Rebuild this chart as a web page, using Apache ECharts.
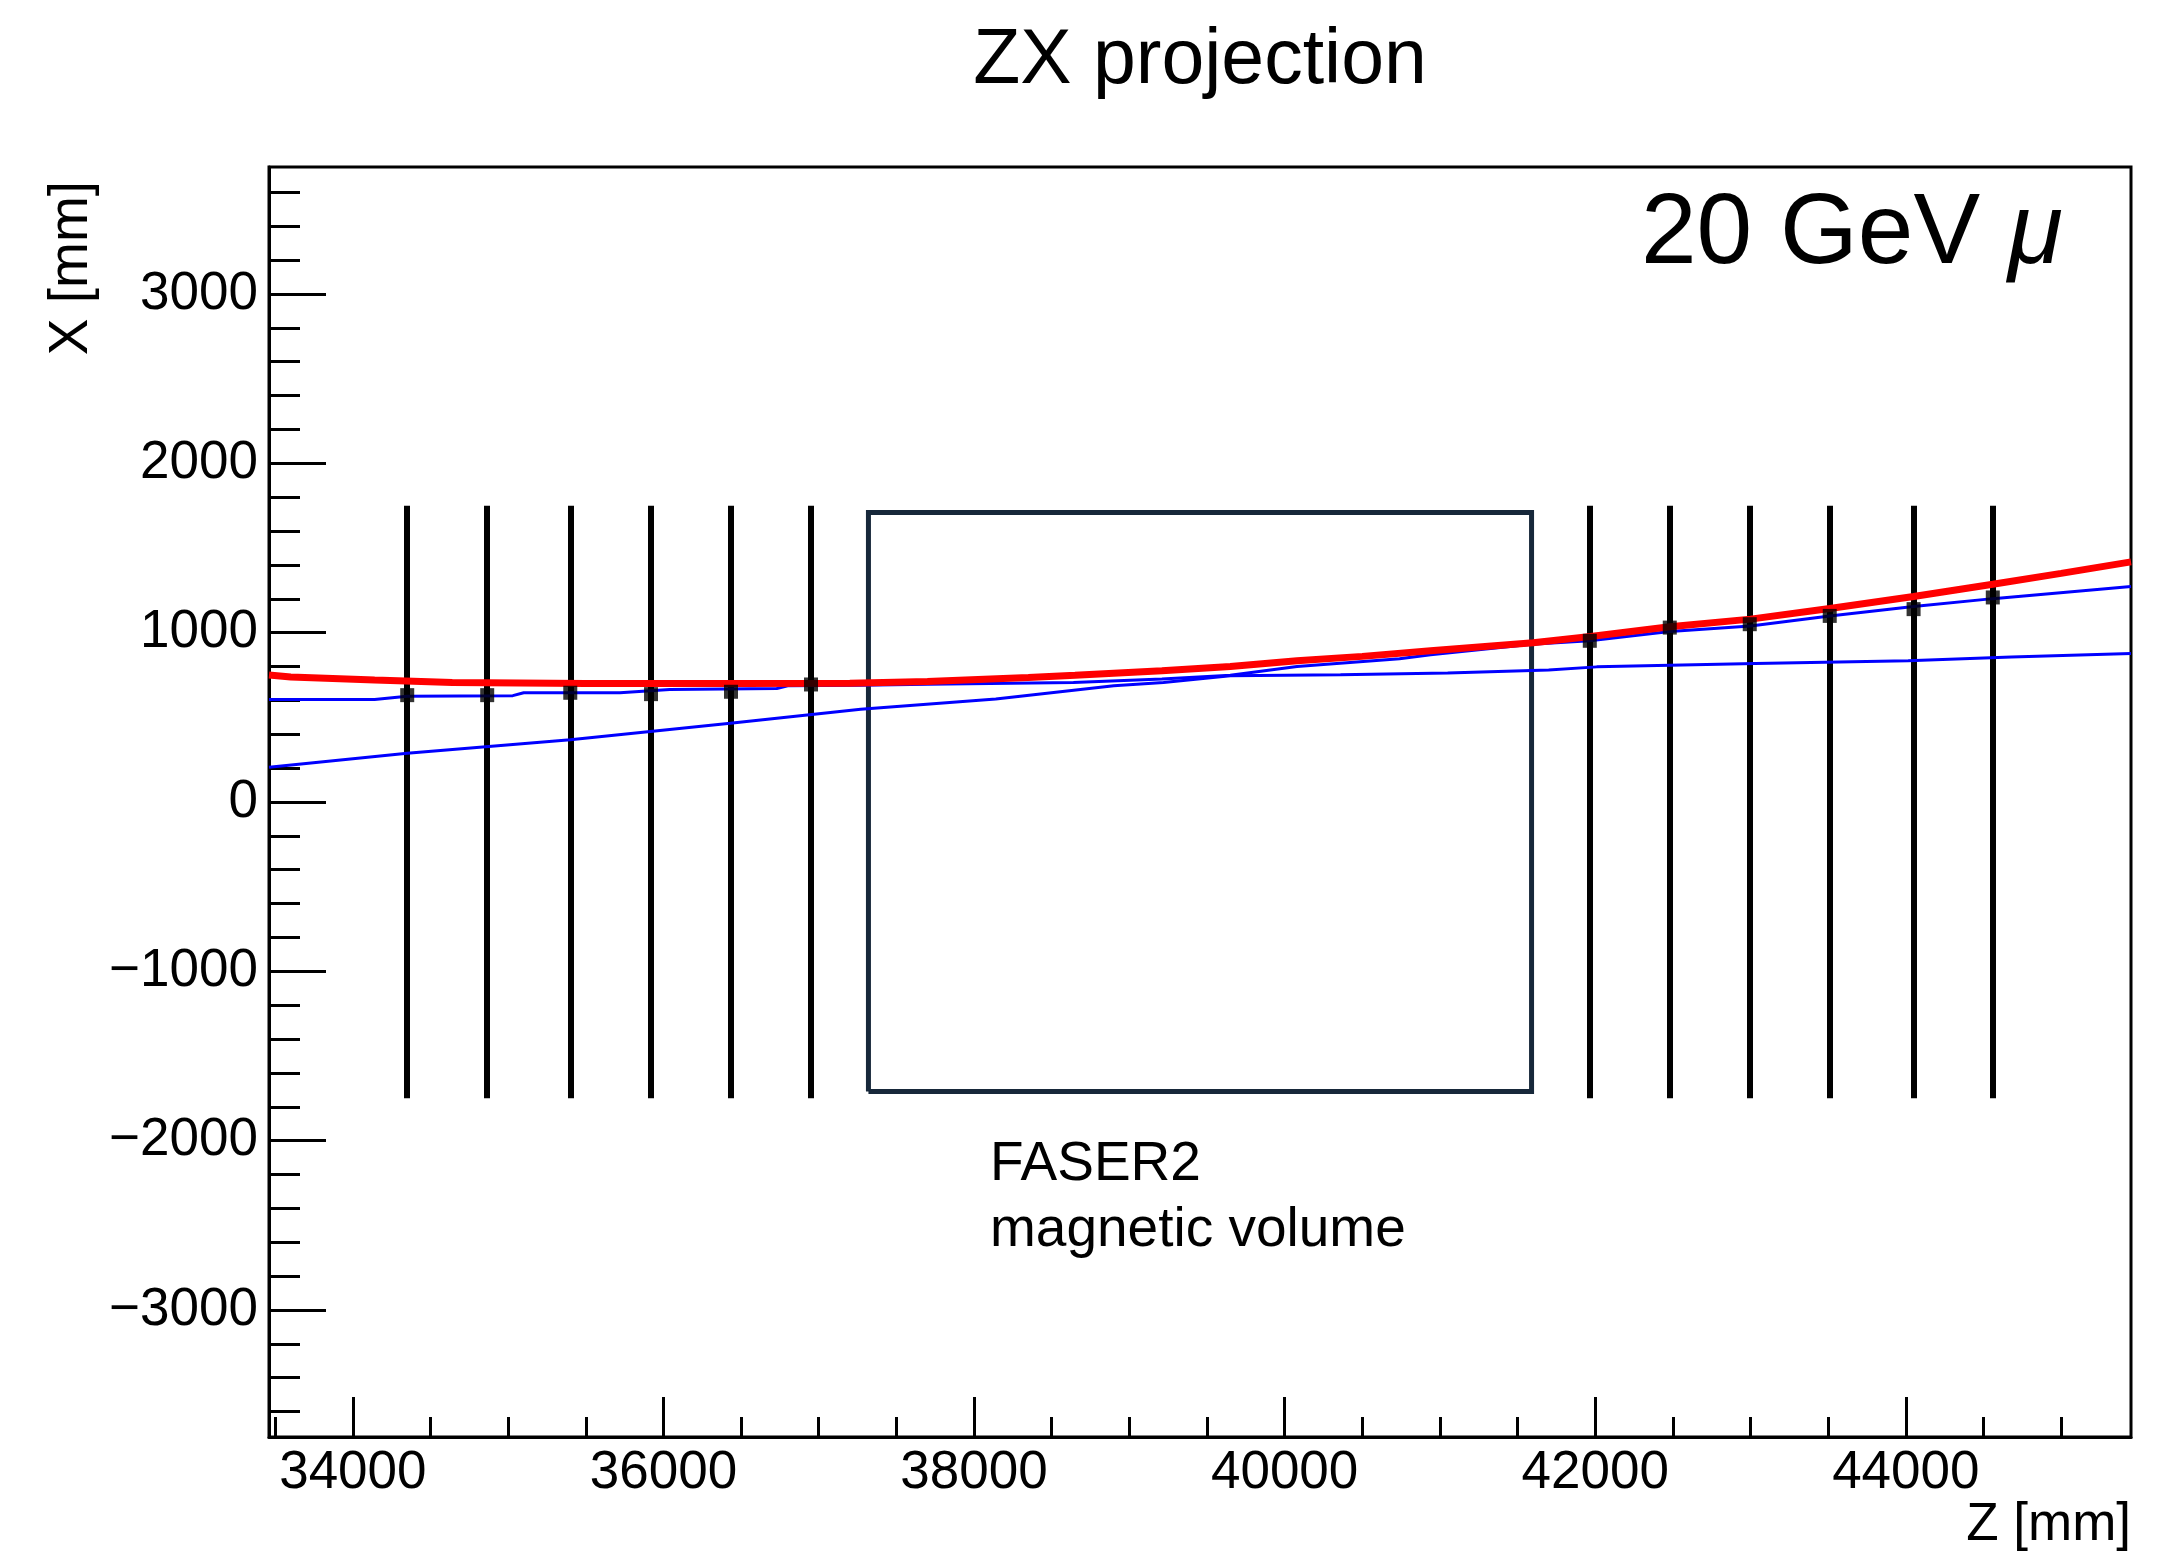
<!DOCTYPE html>
<html>
<head>
<meta charset="utf-8">
<title>ZX projection</title>
<script src="https://cdn.jsdelivr.net/npm/echarts@6/dist/echarts.min.js"></script>
<style>
  html, body { margin: 0; padding: 0; background: #fff; }
  #chart { width: 2173px; height: 1552px; }
</style>
</head>
<body>
<div id="chart"></div>
<script>
// axis ticks
const zMajor = [34000, 36000, 38000, 40000, 42000, 44000]
const zMinor = [33500, 34500, 35000, 35500, 36500, 37000, 37500, 38500, 39000, 39500,
  40500, 41000, 41500, 42500, 43000, 43500, 44500, 45000]
const xMajor = [-3000, -2000, -1000, 0, 1000, 2000, 3000]
const xMinor = [-3600, -3400, -3200, -2800, -2600, -2400, -2200, -1800, -1600, -1400, -1200,
  -800, -600, -400, -200, 200, 400, 600, 800, 1200, 1400, 1600, 1800,
  2200, 2400, 2600, 2800, 3200, 3400, 3600]

// tracking stations (z) and their half height in x
const stationZ = [34350, 34865, 35400, 35920, 36435, 36950,
  41965, 42480, 42995, 43510, 44050, 44560]
const stationHalf = 1750
// hits on the stations
const hitX = [631, 631, 645, 637, 651, 694, 952, 1030, 1050, 1099, 1139, 1208]

// magnet volume corners: z from/to, x from/to
const magnetZ = [37320, 41590]
const magnetX = [-1710, 1710]

// true track (red)
const trueTrack = [
  [33460, 750], [33600, 738], [34140, 720], [34640, 705], [35500, 700], [36500, 700],
  [37200, 702], [37700, 712], [38350, 735], [38650, 748], [39210, 775], [39650, 800],
  [40080, 834], [40500, 860], [40940, 893], [41600, 940], [41970, 977], [42480, 1035],
  [43000, 1080], [43510, 1143], [44050, 1214], [44560, 1286], [45000, 1350], [45450, 1418]
]
// fitted track, downstream-like (blue upper)
const fitUpper = [
  [33460, 606], [34140, 606], [34350, 625], [35030, 628], [35100, 645], [35720, 645],
  [36040, 665], [36730, 670], [36800, 686], [37270, 690], [37700, 696], [38640, 706],
  [39210, 726], [39650, 748], [40080, 800], [40740, 846], [40940, 870], [41590, 932],
  [41965, 952], [42480, 1007], [43000, 1040], [43510, 1099], [44050, 1154], [44560, 1201],
  [45450, 1272]
]
// fitted track, upstream-like (blue lower)
const fitLower = [
  [33460, 205], [34350, 288], [35400, 367], [36430, 465], [37270, 548], [38140, 608],
  [38900, 686], [39220, 706], [39650, 745], [40360, 752], [41050, 762], [41700, 780],
  [42010, 798], [43030, 818], [44015, 834], [44680, 857], [45450, 877]
]

const FONT = '"Liberation Sans", Arial, Helvetica, sans-serif'

const chart = echarts.init(document.getElementById('chart'))

const plain = v => String(v).replace('-', '\u2212')

const stationLines = stationZ.map(z => ({ coords: [[z, -stationHalf], [z, stationHalf]] }))
const magnetBox = [{
  coords: [
    [magnetZ[0], magnetX[0]], [magnetZ[1], magnetX[0]], [magnetZ[1], magnetX[1]],
    [magnetZ[0], magnetX[1]], [magnetZ[0], magnetX[0]]
  ]
}]

const option = {
  animation: false,
  backgroundColor: '#fff',
  grid: {
    left: 269, right: 42, top: 167, bottom: 115,
    show: true, borderColor: '#000', borderWidth: 3, backgroundColor: 'transparent'
  },
  xAxis: [
    {
      type: 'value', min: 33460, max: 45450, position: 'bottom',
      axisLine: { show: true, onZero: false, lineStyle: { color: '#000', width: 3 } },
      axisTick: { show: true, inside: true, length: 40, customValues: zMajor, lineStyle: { color: '#000', width: 3 } },
      axisLabel: { customValues: zMajor, color: '#000', fontSize: 53, fontFamily: FONT, margin: 10, formatter: plain },
      splitLine: { show: false }
    },
    {
      type: 'value', min: 33460, max: 45450, position: 'bottom',
      axisLine: { show: false, onZero: false },
      axisTick: { show: true, inside: true, length: 20, customValues: zMinor, lineStyle: { color: '#000', width: 3 } },
      axisLabel: { show: false },
      splitLine: { show: false }
    }
  ],
  yAxis: [
    {
      type: 'value', min: -3750, max: 3750, position: 'left',
      axisLine: { show: true, onZero: false, lineStyle: { color: '#000', width: 3 } },
      axisTick: { show: true, inside: true, length: 57, customValues: xMajor, lineStyle: { color: '#000', width: 3 } },
      axisLabel: { customValues: xMajor, color: '#000', fontSize: 53, fontFamily: FONT, margin: 11, formatter: plain },
      splitLine: { show: false }
    },
    {
      type: 'value', min: -3750, max: 3750, position: 'left',
      axisLine: { show: false, onZero: false },
      axisTick: { show: true, inside: true, length: 31, customValues: xMinor, lineStyle: { color: '#000', width: 3 } },
      axisLabel: { show: false },
      splitLine: { show: false }
    }
  ],
  series: [
    {
      type: 'lines', coordinateSystem: 'cartesian2d', xAxisIndex: 0, yAxisIndex: 0,
      data: stationLines, silent: true, z: 1,
      lineStyle: { color: '#000', width: 6, opacity: 1 }
    },
    {
      type: 'lines', coordinateSystem: 'cartesian2d', xAxisIndex: 0, yAxisIndex: 0,
      polyline: true, data: magnetBox, silent: true, z: 1,
      lineStyle: { color: '#17283a', width: 5, opacity: 1 }
    },
    {
      type: 'line', data: fitLower, showSymbol: false, z: 2,
      lineStyle: { color: '#0000ff', width: 3 }
    },
    {
      type: 'line', data: fitUpper, showSymbol: false, z: 2,
      lineStyle: { color: '#0000ff', width: 3 }
    },
    {
      type: 'line', data: trueTrack, showSymbol: false, z: 3,
      lineStyle: { color: '#ff0000', width: 7 }
    },
    {
      type: 'scatter', data: stationZ.map((z, i) => [z, hitX[i]]), z: 4,
      symbol: 'rect', symbolSize: 14, itemStyle: { color: '#000' }
    }
  ],
  graphic: [
    {
      type: 'text', x: 1200, y: 62,
      style: { text: 'ZX projection', fontSize: 77, fontFamily: FONT, fill: '#000', align: 'center', verticalAlign: 'middle' }
    },
    {
      type: 'text', x: 72, y: 181, rotation: Math.PI / 2,
      style: { text: 'X [mm]', fontSize: 55, fontFamily: FONT, fill: '#000', align: 'right', verticalAlign: 'middle' }
    },
    {
      type: 'text', x: 2131, y: 1525,
      style: { text: 'Z [mm]', fontSize: 53, fontFamily: FONT, fill: '#000', align: 'right', verticalAlign: 'middle' }
    },
    {
      type: 'text', x: 1641, y: 235,
      style: {
        text: '20 GeV {mu|\u03bc}', fontSize: 100, fontFamily: FONT, fill: '#000',
        align: 'left', verticalAlign: 'middle',
        rich: { mu: { fontSize: 100, fontFamily: FONT, fontStyle: 'italic', fill: '#000' } }
      }
    },
    {
      type: 'text', x: 990, y: 1198,
      style: {
        text: 'FASER2\nmagnetic volume', fontSize: 55, lineHeight: 66, fontFamily: FONT, fill: '#000',
        align: 'left', verticalAlign: 'middle'
      }
    }
  ]
}

chart.setOption(option)
</script>
</body>
</html>
